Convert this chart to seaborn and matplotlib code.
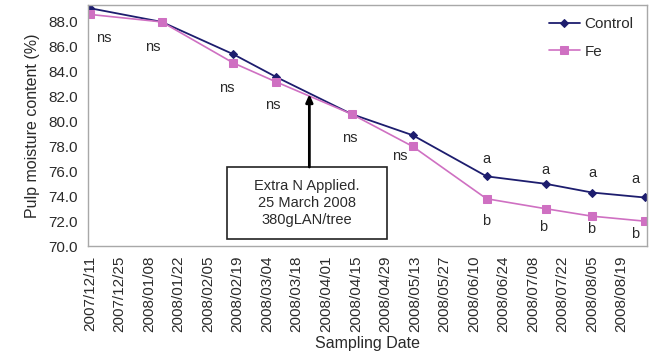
import pandas as pd
import numpy as np
import matplotlib
matplotlib.use('Agg')
import matplotlib.pyplot as plt
import matplotlib.dates as mdates
from matplotlib.patches import Rectangle
import seaborn as sns

# data
sample_dates = ['2007-12-11', '2008-01-14', '2008-02-17', '2008-03-08', '2008-04-13',
                '2008-05-12', '2008-06-16', '2008-07-14', '2008-08-05', '2008-08-30']
control = [89.1, 88.0, 85.4, 83.6, 80.6, 78.9, 75.6, 75.0, 74.3, 73.9]
fe = [88.6, 88.0, 84.7, 83.2, 80.6, 78.0, 73.8, 73.0, 72.4, 72.0]
ns_labels = ['ns'] * 6
a_labels = ['a'] * 4
b_labels = ['b'] * 4
tick_dates = pd.date_range('2007-12-11', '2008-08-19', freq='14D')
y_ticks = np.arange(70, 88.1, 2)
note_text = 'Extra N Applied.\n25 March 2008\n380gLAN/tree'
note_date = '2008-03-24'
note_value = 82.2

C_CONTROL = '#1d1d6e'
C_FE = '#cf70c2'
TXT = '#2a2a2a'

sns.set_style('white')
plt.rcParams['font.family'] = ['Liberation Sans', 'DejaVu Sans']

df = pd.DataFrame({'date': pd.to_datetime(sample_dates), 'Control': control, 'Fe': fe})

fig = plt.figure(figsize=(6.56, 3.64), dpi=100)
ax = fig.add_axes([0.134, 0.324, 0.852, 0.662])

sns.lineplot(data=df, x='date', y='Control', ax=ax, color=C_CONTROL, marker='D',
             markersize=4.5, markeredgecolor=C_CONTROL, linewidth=1.3, label='Control')
sns.lineplot(data=df, x='date', y='Fe', ax=ax, color=C_FE, marker='s',
             markersize=6, markeredgecolor=C_FE, linewidth=1.2, label='Fe')

ax.set_xlim(pd.Timestamp('2007-12-10'), pd.Timestamp('2008-08-31'))
ax.set_ylim(70, 89.35)
ax.set_yticks(y_ticks)
ax.set_yticklabels([f'{v:.1f}' for v in y_ticks])
ax.set_xticks(tick_dates)
ax.set_xticklabels([d.strftime('%Y/%m/%d') for d in tick_dates], rotation=90)
ax.tick_params(axis='both', labelsize=11, colors=TXT, length=3, width=0.8, pad=4)
ax.tick_params(axis='x', color='#999999')
ax.tick_params(axis='y', color='#999999')
ax.set_xlabel('Sampling Date', fontsize=11.5, color=TXT, labelpad=3)
ax.set_ylabel('Pulp moisture content (%)', fontsize=11.5, color=TXT, labelpad=6)
for s in ax.spines.values():
    s.set_color('#a8a8a8')
    s.set_linewidth(1.0)

# significance letters (offsets in pixels)
ns_off = [(14, -24), (-9, -25), (-7, -25), (-3, -23), (-2, -24), (-13, -10)]
for i, lab in enumerate(ns_labels):
    ax.annotate(lab, (df['date'][i], fe[i]), xytext=ns_off[i], textcoords='offset pixels',
                ha='center', va='center', fontsize=10.5, color=TXT)
a_off = [(0, 17), (0, 14), (0, 20), (-9, 18)]
b_off = [(0, -22), (-2, -18), (-1, -13), (-10, -13)]
for j, lab in enumerate(a_labels):
    i = 6 + j
    ax.annotate(lab, (df['date'][i], control[i]), xytext=a_off[j], textcoords='offset pixels',
                ha='center', va='center', fontsize=10.5, color=TXT)
for j, lab in enumerate(b_labels):
    i = 6 + j
    ax.annotate(lab, (df['date'][i], fe[i]), xytext=b_off[j], textcoords='offset pixels',
                ha='center', va='center', fontsize=10.5, color=TXT)

# fertiliser note with arrow
ax.add_patch(Rectangle((0.249, 0.029), 0.286, 0.299, transform=ax.transAxes,
                       facecolor='white', edgecolor='#222222', linewidth=1.2, zorder=4))
ax.text(0.392, 0.178, note_text, transform=ax.transAxes, ha='center', va='center',
        fontsize=10.5, color=TXT, linespacing=1.25, zorder=5)
ax.annotate('', xy=(mdates.date2num(pd.Timestamp(note_date)), note_value),
            xytext=(mdates.date2num(pd.Timestamp(note_date)), 0.328),
            textcoords=ax.get_xaxis_transform(),
            arrowprops=dict(arrowstyle='-|>,head_length=0.45,head_width=0.2',
                            color='black', linewidth=2, shrinkA=0, shrinkB=0), zorder=5)

leg = ax.legend(loc='upper right', frameon=False, fontsize=11, handlelength=2.0,
                handletextpad=0.3, labelspacing=0.9, bbox_to_anchor=(0.995, 0.995),
                borderaxespad=0.3)
for t in leg.get_texts():
    t.set_color(TXT)

fig.savefig('out.png', dpi=100)
